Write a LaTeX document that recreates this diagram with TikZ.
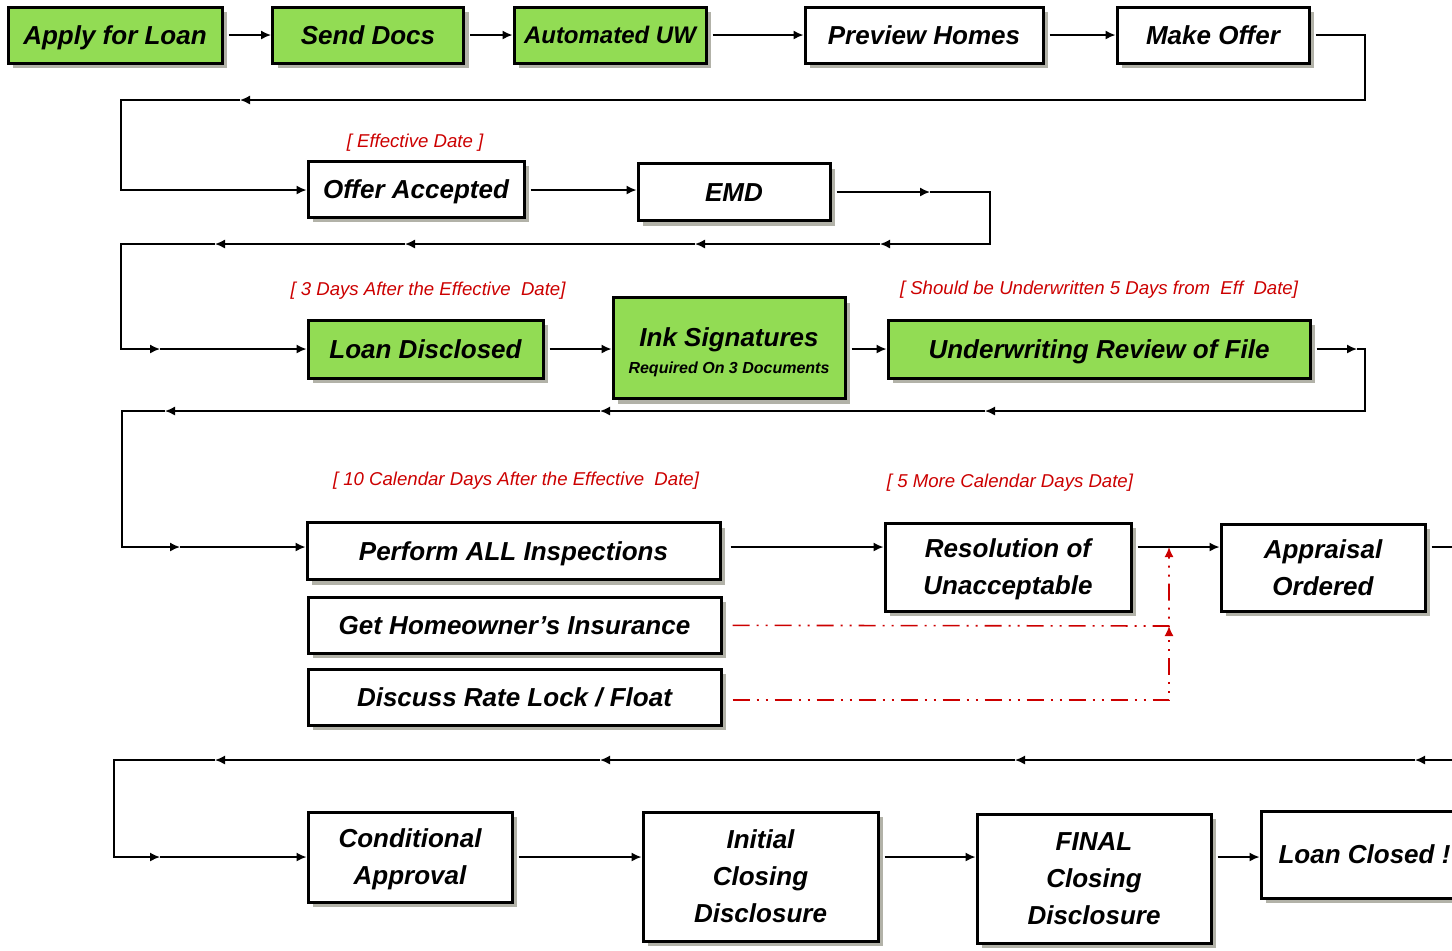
\documentclass[tikz,border=0pt]{standalone}
\usepackage{fontspec}
\setmainfont{Liberation Sans}
\usetikzlibrary{arrows.meta, shadows}
\definecolor{loangreen}{RGB}{146,220,84}
\definecolor{notered}{RGB}{204,0,0}
\definecolor{shadowgray}{RGB}{178,178,168}

\begin{document}
\begin{tikzpicture}[x=0.5pt, y=-0.5pt,
    plainbox/.style={draw, line width=1.5pt, fill=white, inner sep=0pt, align=center,
      font=\bfseries\itshape\fontsize{13pt}{18.5pt}\selectfont,
      text height=12pt, text depth=2.7pt,
      drop shadow={shadow xshift=2.5pt, shadow yshift=-2.5pt, fill=shadowgray, opacity=1}},
    greenbox/.style={plainbox, fill=loangreen},
    twolines/.style={text height=30.5pt},
    threelines/.style={text height=49pt},
    note/.style={text=notered, font=\itshape\fontsize{9.3pt}{11pt}\selectfont},
    flow/.style={-{Latex[length=5pt,width=4.5pt]}, line width=0.75pt},
    out gap/.style={shorten <=2.5pt},
    link/.style={flow, draw=notered, line width=0.8pt,
      dash pattern=on 8.5pt off 3.5pt on 1pt off 3.5pt on 1pt off 3.5pt}]
  \clip (0,0) rectangle (1452,950);

  % row 1
  \node[greenbox, minimum width=107pt, minimum height=28pt] (apply) at (115,35) {Apply for Loan};
  \node[greenbox, minimum width=95.5pt, minimum height=28pt] (docs) at (368,35) {Send Docs};
  \node[greenbox, minimum width=96pt, minimum height=28pt, font=\bfseries\itshape\fontsize{12pt}{14pt}\selectfont, text height=11pt, text depth=2.4pt] (auw) at (610,35) {Automated UW};
  \node[plainbox, minimum width=119pt, minimum height=28pt] (preview) at (924,35) {Preview Homes};
  \node[plainbox, minimum width=96pt, minimum height=28pt] (offer) at (1213,35) {Make Offer};

  % row 2
  \node[note] (effdate) at (415,143) {[ Effective Date ]};
  \node[plainbox, minimum width=108pt, minimum height=28pt] (accepted) at (416,189) {Offer Accepted};
  \node[plainbox, minimum width=96pt, minimum height=28.5pt] (emd) at (734,192) {EMD};

  % row 3
  \node[note] (threedays) at (428,291) {[ 3 Days After the Effective\ \ Date]};
  \node[note] (fivedays) at (1099,290) {[ Should be Underwritten 5 Days from\ \ Eff\ \ Date]};
  \node[greenbox, minimum width=117.5pt, minimum height=29pt] (disclosed) at (425.5,349) {Loan Disclosed};
  \node[greenbox, minimum width=116pt, minimum height=50.5pt, text height=27pt, text depth=2pt] (ink) at (729,348) {Ink Signatures\\[-5pt]{\fontsize{8pt}{10pt}\selectfont Required On 3 Documents}};
  \node[greenbox, minimum width=211pt, minimum height=29pt] (review) at (1099,349) {Underwriting Review of File};

  % row 4
  \node[note] (tendays) at (516,481) {[ 10 Calendar Days After the Effective\ \ Date]};
  \node[note] (moredays) at (1010,483) {[ 5 More Calendar Days Date]};
  \node[plainbox, minimum width=206.5pt, minimum height=28.5pt] (perform) at (513.5,551) {Perform ALL Inspections};
  \node[plainbox, minimum width=206.5pt, minimum height=28pt] (insurance) at (514.5,625) {Get Homeowner’s Insurance};
  \node[plainbox, minimum width=206.5pt, minimum height=28pt] (ratelock) at (514.5,697) {Discuss Rate Lock / Float};
  \node[plainbox, twolines, minimum width=123pt, minimum height=44pt] (resolution) at (1008,567) {Resolution of\\Unacceptable};
  \node[plainbox, twolines, minimum width=102pt, minimum height=43.5pt] (appraisal) at (1323,567.5) {Appraisal\\Ordered};

  % row 5
  \node[plainbox, twolines, minimum width=102pt, minimum height=45pt] (conditional) at (410,857) {Conditional\\Approval};
  \node[plainbox, threelines, minimum width=117.5pt, minimum height=64.5pt] (initial) at (760.5,876.5) {Initial\\Closing\\Disclosure};
  \node[plainbox, threelines, minimum width=117pt, minimum height=64.5pt] (final) at (1094,878.5) {FINAL\\Closing\\Disclosure};
  \node[plainbox, minimum width=103.5pt, minimum height=43.5pt] (closed) at (1364.5,854.5) {Loan Closed !};

  % turning points and tips
  \coordinate (t1) at (240,100);
  \coordinate (t2a) at (930,192);
  \coordinate (t2b) at (880,244);
  \coordinate (t2c) at (695,244);
  \coordinate (t2d) at (405,244);
  \coordinate (t2e) at (215,244);
  \coordinate (t2f) at (160,349);
  \coordinate (t3a) at (1357,349);
  \coordinate (t3b) at (985,411);
  \coordinate (t3c) at (600,411);
  \coordinate (t3d) at (165,411);
  \coordinate (t3e) at (180,547);
  \coordinate (t4a) at (1415,760);
  \coordinate (t4b) at (1015,760);
  \coordinate (t4c) at (600,760);
  \coordinate (t4d) at (215,760);
  \coordinate (t4e) at (160,857);
  \coordinate (j0) at (1169,547);
  \coordinate (j1) at (1169,626);

  \draw[flow, out gap] (apply) -- (docs);
  \draw[flow, out gap] (docs) -- (auw);
  \draw[flow, out gap] (auw) -- (preview);
  \draw[flow, out gap] (preview) -- (offer);
  \draw[flow, out gap] (offer) -| (1365,100) -- (t1);
  \draw[flow] (t1) -| (121,190) -- (accepted.west |- 0,190);

  \draw[flow, out gap] (accepted.east |- 0,190) -- (emd.west |- 0,190);
  \draw[flow, out gap] (emd) -- (t2a);
  \draw[flow] (t2a) -| (990,244) -- (t2b);
  \foreach \a/\b in {t2b/t2c, t2c/t2d, t2d/t2e}
    \draw[flow] (\a) -- (\b);
  \draw[flow] (t2e) -| (121,349) -- (t2f);
  \draw[flow] (t2f) -- (disclosed);

  \draw[flow, out gap] (disclosed) -- (ink.west |- disclosed);
  \draw[flow, out gap] (ink.east |- review) -- (review);
  \draw[flow, out gap] (review) -- (t3a);
  \draw[flow] (t3a) -| (1365,411) -- (t3b);
  \foreach \a/\b in {t3b/t3c, t3c/t3d}
    \draw[flow] (\a) -- (\b);
  \draw[flow] (t3d) -| (122,547) -- (t3e);
  \draw[flow] (t3e) -- (t3e -| perform.west);

  \draw[flow, shorten <=4.5pt] (perform.east |- t3e) -- (resolution.west |- t3e);
  \draw[flow, out gap] (resolution.east |- t3e) -- (appraisal.west |- t3e);
  \draw[flow, out gap] (appraisal.east |- t3e) -| (1480,760) -- (t4a);
  \foreach \a/\b in {t4a/t4b, t4b/t4c, t4c/t4d}
    \draw[flow] (\a) -- (\b);
  \draw[flow] (t4d) -| (114,857) -- (t4e);
  \draw[flow] (t4e) -- (conditional);

  \draw[link, shorten <=5pt] (insurance) -- (j1) -- (j0);
  \draw[link, shorten <=5pt] (ratelock.east |- 0,700) -| (j1);

  \draw[flow, out gap] (conditional) -- (conditional -| initial.west);
  \draw[flow, out gap] (initial.east |- conditional) -- (final.west |- conditional);
  \draw[flow, out gap] (final.east |- conditional) -- (closed.west |- conditional);
\end{tikzpicture}
\end{document}
